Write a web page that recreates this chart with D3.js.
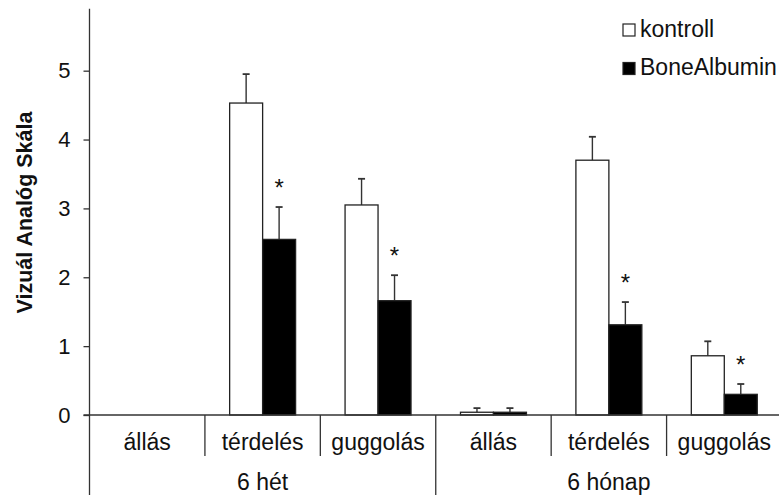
<!DOCTYPE html>
<html>
<head>
<meta charset="utf-8">
<title>Vizuál Analóg Skála</title>
<style>
  body { margin: 0; background: #fff; }
  svg text { font-family: "Liberation Sans", Arial, sans-serif; fill: #111; }
</style>
</head>
<body>
<svg id="chart" width="779" height="495"></svg>
<script src="https://cdn.jsdelivr.net/npm/d3@7"></script>
<script>
// data
const groups = ["6 hét", "6 hónap"];
const categories = ["állás", "térdelés", "guggolás", "állás", "térdelés", "guggolás"];
const series = ["kontroll", "BoneAlbumin"];
const kontroll = [0, 4.53, 3.05, 0.04, 3.70, 0.86];
const kontrollErr = [0, 0.42, 0.38, 0.06, 0.34, 0.21];
const boneAlbumin = [0, 2.55, 1.66, 0.04, 1.31, 0.30];
const boneAlbuminErr = [0, 0.47, 0.37, 0.06, 0.33, 0.15];
const significant = [false, true, true, false, true, true];
const yTicks = [0, 1, 2, 3, 4, 5];

const svg = d3.select("#chart");
const left = 89.5, right = 782, zeroY = 415;

const x0 = d3.scaleBand().domain(d3.range(categories.length)).range([left, right]).padding(0);
const x1 = d3.scaleBand().domain(series).range([0, x0.bandwidth()]).paddingInner(0).paddingOuter(0.75);
const y = d3.scaleLinear().domain([0, 5.9]).range([zeroY, 8.7]);

const fills = { kontroll: "#fff", BoneAlbumin: "#000" };

// y axis
const yAxis = svg.append("g")
  .attr("transform", "translate(" + left + ",0)")
  .call(d3.axisLeft(y).tickValues(yTicks).tickSize(6).tickPadding(13).tickFormat(d3.format("d")));
yAxis.select(".domain").remove();
yAxis.selectAll("line").attr("stroke", "#333").attr("stroke-width", 1.3);
yAxis.selectAll("text").style("font-size", "22px").attr("fill", "#111");

svg.append("line")
  .attr("x1", left).attr("x2", left)
  .attr("y1", y(5.9)).attr("y2", 495)
  .attr("stroke", "#333").attr("stroke-width", 1.3);

svg.append("text")
  .attr("transform", "translate(31.5," + 212.5 + ") rotate(-90)")
  .attr("text-anchor", "middle")
  .style("font-size", "21.5px")
  .style("font-weight", "bold")
  .text("Vizuál Analóg Skála");

// bars
const rows = categories.map((c, i) => ({
  i: i,
  vals: [
    { s: "kontroll", v: kontroll[i], e: kontrollErr[i] },
    { s: "BoneAlbumin", v: boneAlbumin[i], e: boneAlbuminErr[i], sig: significant[i] }
  ]
}));

const cat = svg.selectAll("g.cat").data(rows).enter().append("g")
  .attr("class", "cat")
  .attr("transform", d => "translate(" + x0(d.i) + ",0)");

const bar = cat.selectAll("g.bar").data(d => d.vals.filter(v => v.v > 0)).enter().append("g").attr("class", "bar");

// error bars
bar.append("line")
  .attr("x1", d => x1(d.s) + x1.bandwidth() / 2)
  .attr("x2", d => x1(d.s) + x1.bandwidth() / 2)
  .attr("y1", d => y(d.v))
  .attr("y2", d => y(d.v + d.e))
  .attr("stroke", "#333").attr("stroke-width", 1.4);
bar.append("line")
  .attr("x1", d => x1(d.s) + x1.bandwidth() / 2 - 3.5)
  .attr("x2", d => x1(d.s) + x1.bandwidth() / 2 + 3.5)
  .attr("y1", d => y(d.v + d.e))
  .attr("y2", d => y(d.v + d.e))
  .attr("stroke", "#333").attr("stroke-width", 1.8);

bar.append("rect")
  .attr("x", d => x1(d.s))
  .attr("y", d => y(d.v))
  .attr("width", x1.bandwidth())
  .attr("height", d => zeroY - y(d.v))
  .attr("fill", d => fills[d.s])
  .attr("stroke", "#222").attr("stroke-width", 1.3);

bar.filter(d => d.sig).append("text")
  .attr("x", d => x1(d.s) + x1.bandwidth() / 2)
  .attr("y", d => y(d.v + d.e) - 11)
  .attr("text-anchor", "middle")
  .style("font-size", "24px")
  .text("*");

// x axis line and separators
svg.append("line")
  .attr("x1", left - 6).attr("x2", 779)
  .attr("y1", zeroY).attr("y2", zeroY)
  .attr("stroke", "#333").attr("stroke-width", 1.3);

svg.selectAll("line.sep").data(d3.range(1, categories.length)).enter().append("line")
  .attr("class", "sep")
  .attr("x1", i => x0(i)).attr("x2", i => x0(i))
  .attr("y1", zeroY)
  .attr("y2", i => i === 3 ? 495 : 456)
  .attr("stroke", "#333").attr("stroke-width", 1.3);

svg.selectAll("text.cat").data(categories).enter().append("text")
  .attr("class", "cat")
  .attr("x", (d, i) => x0(i) + x0.bandwidth() / 2)
  .attr("y", 450)
  .attr("text-anchor", "middle")
  .style("font-size", "23px")
  .text(d => d);

svg.selectAll("text.grp").data(groups).enter().append("text")
  .attr("class", "grp")
  .attr("x", (d, i) => (x0(i * 3) + x0(i * 3 + 2) + x0.bandwidth()) / 2)
  .attr("y", 490)
  .attr("text-anchor", "middle")
  .style("font-size", "23px")
  .text(d => d);

// legend
const legend = svg.selectAll("g.leg").data(series).enter().append("g")
  .attr("class", "leg")
  .attr("transform", (d, i) => "translate(623," + (24 + i * 38.5) + ")");
legend.append("rect")
  .attr("width", 12).attr("height", 12)
  .attr("fill", d => fills[d])
  .attr("stroke", "#222").attr("stroke-width", 1.2);
legend.append("text")
  .attr("x", 17).attr("y", 12.5)
  .style("font-size", "23px")
  .text(d => d);
</script>
</body>
</html>
